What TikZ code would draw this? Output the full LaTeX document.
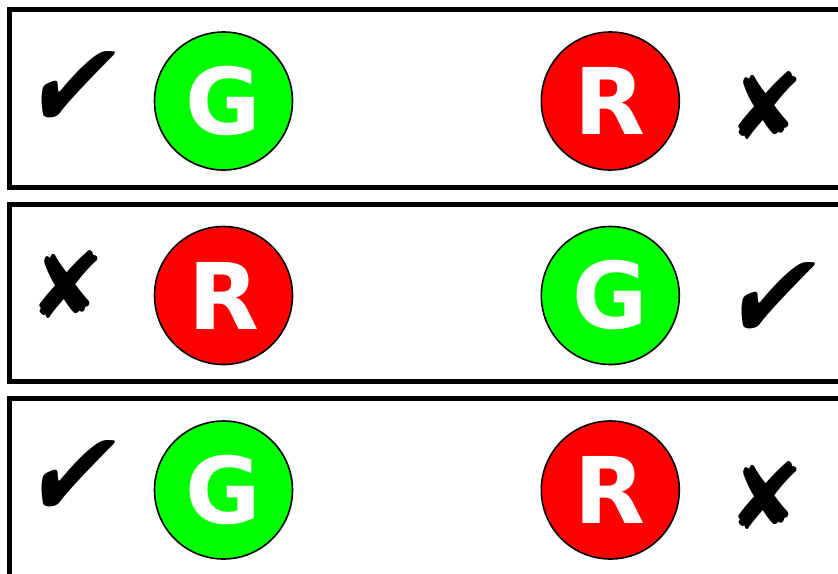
\documentclass[tikz,border=0pt]{standalone}
\usepackage{fontspec}
\setmainfont{DejaVu Sans}
\newfontfamily\symfont{DejaVu Sans}
\definecolor{lightgreen}{HTML}{00FF00}
\definecolor{pured}{HTML}{FF0000}
\tikzset{
  rowbox/.style={draw=black, line width=5pt, fill=white},
  lamp/.style={circle, draw=black, line width=1.6pt, minimum size=138pt, inner sep=0pt,
    text=white, font=\fontsize{92}{92}\selectfont\bfseries},
  greenlamp/.style={lamp, fill=lightgreen},
  redlamp/.style={lamp, fill=pured},
  okmark/.style={inner sep=0pt, xslant=0.24, xscale=0.86, transform shape, font=\symfont\bfseries\fontsize{122}{122}\selectfont},
  badmark/.style={inner sep=0pt, font=\symfont\fontsize{92}{92}\selectfont}
}
\begin{document}
\begin{tikzpicture}[x=1pt,y=-1pt]
\useasboundingbox (0,0) rectangle (838,573);
\clip (0,0) rectangle (838,573);
\fill[white] (0,0) rectangle (838,573);
% row boxes
\draw[rowbox] (9.5,9.5) rectangle (900,187);
\draw[rowbox] (9.5,204) rectangle (900,381.5);
\draw[rowbox] (9.5,398) rectangle (900,600);
% row 1
\begin{scope}[shift={(75,90.5)}]\node[okmark] (ok1) at (0,0) {✔};\end{scope}
\node[greenlamp] (g1) at (223.5,101) {G};
\node[redlamp] (r1) at (610.3,101) {R};
\node[badmark] (x1) at (766,105) {✘};
% row 2
\node[badmark] (x2) at (67,284) {✘};
\node[redlamp] (r2) at (223.5,295.5) {R};
\node[greenlamp] (g2) at (610.3,295.5) {G};
\begin{scope}[shift={(775,301.5)}]\node[okmark] (ok2) at (0,0) {✔};\end{scope}
% row 3
\begin{scope}[shift={(75,479.5)}]\node[okmark] (ok3) at (0,0) {✔};\end{scope}
\node[greenlamp] (g3) at (223.5,490) {G};
\node[redlamp] (r3) at (610.3,490) {R};
\node[badmark] (x3) at (766,495) {✘};
\end{tikzpicture}
\end{document}
